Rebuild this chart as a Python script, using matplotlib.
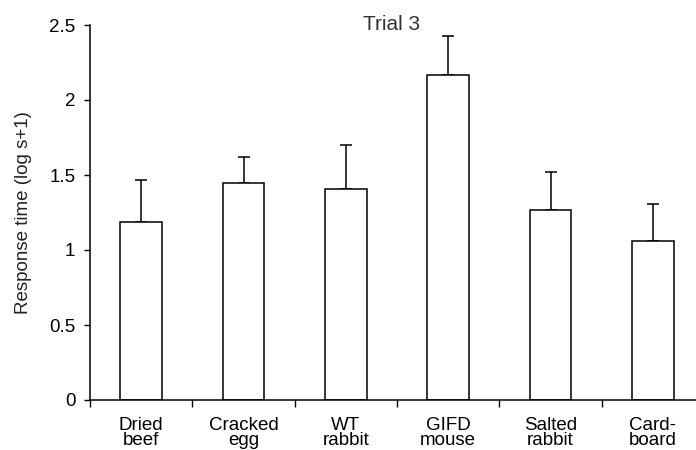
import matplotlib.pyplot as plt
import numpy as np

plt.rcParams['font.family'] = ['Liberation Sans', 'DejaVu Sans']

# data
categories = ['Dried\nbeef', 'Cracked\negg', 'WT\nrabbit', 'GIFD\nmouse', 'Salted\nrabbit', 'Card-\nboard']
means = [1.19, 1.45, 1.41, 2.17, 1.27, 1.06]
err_upper = [0.28, 0.17, 0.29, 0.26, 0.25, 0.25]

fig = plt.figure(figsize=(6.96, 4.5), dpi=100)
ax = fig.add_axes([90 / 696, 50 / 450, 614 / 696, 375 / 450])

x = np.arange(len(categories)) + 0.5
ax.bar(x, means, width=0.41, color='white', edgecolor='black', linewidth=1.1, zorder=2)
ax.errorbar(x, means, yerr=[np.zeros(len(means)), err_upper], fmt='none',
            ecolor='black', elinewidth=1.1, capsize=4, capthick=1.1, zorder=1)

ax.set_xlim(0, 6)
ax.set_ylim(0, 2.5)
ax.set_yticks([0, 0.5, 1, 1.5, 2, 2.5])
ax.set_yticklabels(['0', '0.5', '1', '1.5', '2', '2.5'])
ax.set_xticks(np.arange(0, 6))
ax.set_xticklabels([])
ax.set_xticks(x, minor=True)
ax.set_xticklabels(categories, minor=True, fontsize=13.5, linespacing=0.9)

ax.tick_params(axis='y', direction='out', length=4.5, width=1, labelsize=13.5, pad=6)
ax.tick_params(axis='x', which='major', direction='out', length=5, width=1)
ax.tick_params(axis='x', which='minor', length=0, pad=12)

for s in ['top', 'right']:
    ax.spines[s].set_visible(False)
for s in ['left', 'bottom']:
    ax.spines[s].set_linewidth(1.1)

ax.set_ylabel('Response time (log s+1)', fontsize=13.5, labelpad=12, color='#222222')
ax.text(2.95, 2.5, 'Trial 3', ha='center', va='center', fontsize=15, color='#333333')

fig.savefig('out.png', dpi=100)
